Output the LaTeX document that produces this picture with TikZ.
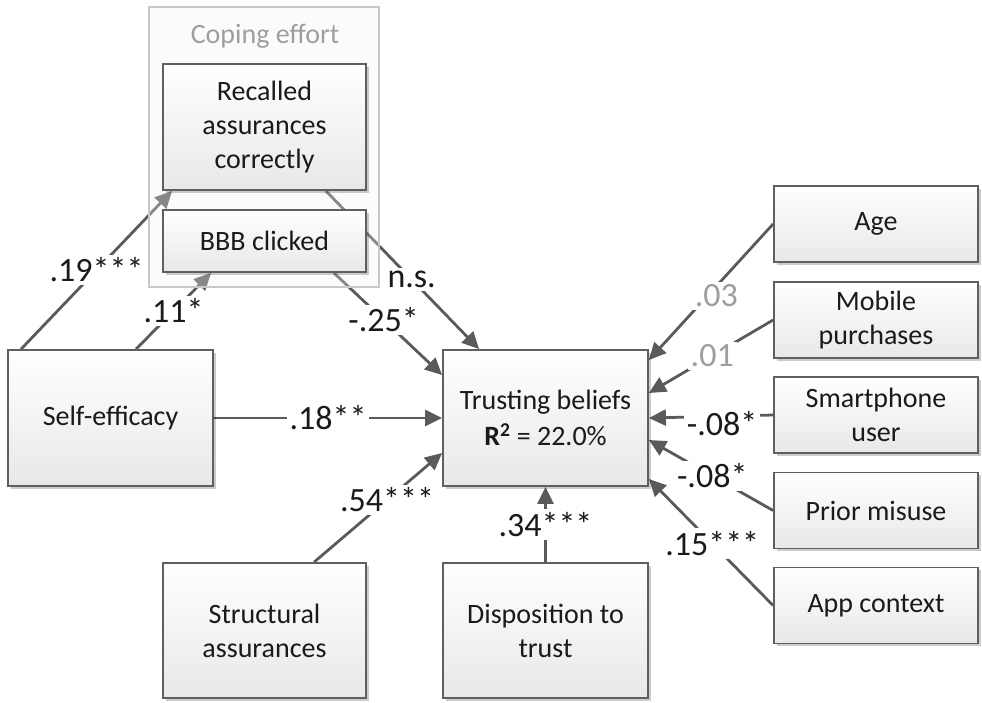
\documentclass[tikz,border=0pt]{standalone}
\usepackage{fontspec}
\setmainfont{Carlito}
\usetikzlibrary{arrows.meta,shadows}
\definecolor{edgegray}{HTML}{5A5A5A}
\definecolor{boxline}{HTML}{5F5F5F}
\definecolor{faint}{HTML}{9E9E9E}
\definecolor{groupline}{HTML}{C8C8C8}
\definecolor{ink}{HTML}{1A1A1A}

% connectors lie under the translucent group frame, boxes on top
\pgfdeclarelayer{lines}
\pgfdeclarelayer{veil}
\pgfsetlayers{lines,veil,main}

\tikzset{
  box/.style={draw=boxline, line width=1.8pt, top color=white, bottom color=black!9,
    align=center, inner sep=0pt, text=ink,
    font=\fontsize{28}{34}\selectfont,
    drop shadow={shadow xshift=2.5pt, shadow yshift=-2.5pt, opacity=0.2, fill=black}},
  link/.style={draw=edgegray, line width=2.8pt, -{Triangle[length=17pt,width=16pt]}},
  coef/.style={fill=white, inner sep=3pt, text=ink, font=\fontsize{34}{38}\selectfont},
  weak/.style={coef, text=faint},
}

\begin{document}
\begin{tikzpicture}[x=1pt, y=-1pt]
  \useasboundingbox (0,0) rectangle (982,702);

  % coping effort group
  \begin{pgfonlayer}{veil}
    \node[draw=groupline, line width=1.5pt, fill=black!5, fill opacity=0.3, draw opacity=1,
      minimum width=230pt, minimum height=280pt, inner sep=0pt] (grp) at (264,147) {};
  \end{pgfonlayer}
  \node[text=faint, font=\fontsize{28}{34}\selectfont] (grptitle) at (265,36) {Coping effort};

  % boxes
  \node[box, minimum width=203pt, minimum height=126pt] (rec) at (264.5,127) {Recalled\\assurances\\correctly};
  \node[box, minimum width=203pt, minimum height=62pt]  (bbb) at (264.5,241) {BBB clicked};
  \node[box, minimum width=205pt, minimum height=136pt] (se)  at (110.5,418) {Self-efficacy};
  \node[box, minimum width=205pt, minimum height=136pt, font=\fontsize{28}{36}\selectfont] (tb) at (545.5,418)
    {Trusting beliefs\\\textbf{R\textsuperscript{2}} = 22.0\%};
  \node[box, minimum width=203pt, minimum height=135pt] (sa)  at (264.5,630.5) {Structural\\assurances};
  \node[box, minimum width=205pt, minimum height=135pt] (dt)  at (545.5,630.5) {Disposition to\\trust};
  \node[box, minimum width=204pt, minimum height=76pt] (age)   at (876,224)   {Age};
  \node[box, minimum width=204pt, minimum height=76pt] (mob)   at (876,320)   {Mobile\\purchases};
  \node[box, minimum width=204pt, minimum height=76pt] (smart) at (876,415)   {Smartphone\\user};
  \node[box, minimum width=204pt, minimum height=76pt] (prior) at (876,510.5) {Prior misuse};
  \node[box, minimum width=204pt, minimum height=76pt] (app)   at (876,605.5) {App context};

  \begin{pgfonlayer}{lines}
    % paths into coping effort
    \draw[link] ([xshift=14pt]se.north west) -- node[coef, pos=0.5] (c1) {.19***} ([xshift=10pt]rec.south west);
    \draw[link] ([xshift=129pt]se.north west) -- node[coef, pos=0.5] (c2) {.11*} ([xshift=49pt]bbb.south west);

    % paths into trusting beliefs
    \draw[link] ([xshift=-41pt]rec.south east) -- node[coef, pos=0.56] (c3) {n.s.} ([xshift=37pt]tb.north west);
    \draw[link] ([xshift=-33pt]bbb.south east) -- node[coef, pos=0.46] (c4) {-.25*} ([yshift=43pt]tb.west);
    \draw[link] (se.east) -- node[coef, pos=0.5] (c5) {.18**} (tb.west);
    \draw[link] ([xshift=152pt]sa.north west) -- node[coef, pos=0.57] (c6) {.54***} ([yshift=-35pt]tb.west);
    \draw[link] (dt.north) -- node[coef, pos=0.5] (c7) {.34***} (tb.south);

    % controls
    \draw[link] (age.west)   -- node[weak, pos=0.53, xshift=9pt] (c8) {.03} ([yshift=58pt]tb.east);
    \draw[link] (mob.west)   -- node[weak, pos=0.49] (c9) {.01} ([yshift=25pt]tb.east);
    \draw[link] (smart.west) -- node[coef, pos=0.41, yshift=-7pt] (c10) {-.08*} (tb.east);
    \draw[link] (prior.west) -- node[coef, pos=0.49] (c11) {-.08*} ([yshift=-22pt]tb.east);
    \draw[link] (app.west)   -- node[coef, pos=0.49] (c12) {.15***} ([yshift=-61pt]tb.east);
  \end{pgfonlayer}
\end{tikzpicture}
\end{document}
